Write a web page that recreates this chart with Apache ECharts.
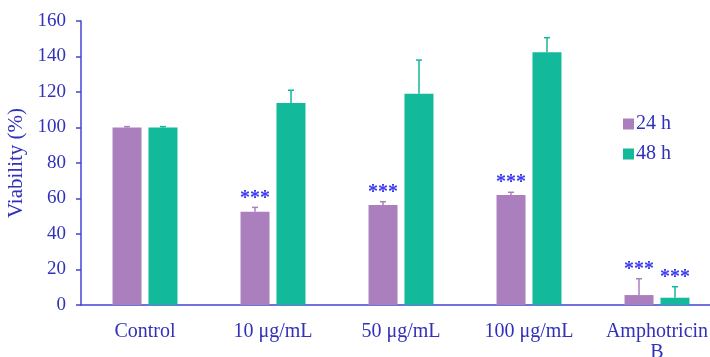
<!DOCTYPE html>
<html><head><meta charset="utf-8">
<script src="https://cdn.jsdelivr.net/npm/echarts@6/dist/echarts.min.js"></script>
<style>html,body{margin:0;padding:0;background:#fff}#c{width:710px;height:357px}</style>
</head><body><div id="c"></div>
<script>
const categories = ['Control', '10 μg/mL', '50 μg/mL', '100 μg/mL', 'Amphotricin\nB'];
const v24 = [100, 52.6, 56.3, 62, 5.6];
const e24 = [0.5, 2.4, 1.9, 1.5, 9.2];
const v48 = [100, 113.8, 119, 142.4, 4.1];
const e48 = [0.5, 7.2, 19, 8.2, 6.2];
const stars24 = ['', '***', '***', '***', '***'];
const stars48 = ['', '', '', '', '***'];
const yTicks = [0, 20, 40, 60, 80, 100, 120, 140, 160];

const PURPLE = '#ab7fbe', GREEN = '#13b99b', AXIS = '#4444d4', TXT = '#3030bb', STAR = '#3a3af0';
const FONT = '"Liberation Serif", "DejaVu Serif", serif';
const BW = 29, OFF = 18;

function errSeries(name, vals, errs, stars, color, off) {
  return {
    type: 'custom', name: name + ' err', z: 5,
    data: vals.map((v, i) => [i, v, v + errs[i], stars[i]]),
    renderItem: function (params, api) {
      const b = api.coord([api.value(0), api.value(1)]);
      const t = api.coord([api.value(0), api.value(2)]);
      const x = b[0] + off;
      const s = api.value(3);
      const children = [
        { type: 'line', shape: { x1: x, y1: b[1], x2: x, y2: t[1] }, style: { stroke: color, lineWidth: 1.5 } },
        { type: 'line', shape: { x1: x - 3, y1: t[1], x2: x + 3, y2: t[1] }, style: { stroke: color, lineWidth: 1.5 } }
      ];
      if (s) children.push({ type: 'text', style: { text: s, x: x, y: t[1] + 1, align: 'center', verticalAlign: 'bottom', fill: STAR, font: 'bold 20px ' + FONT } });
      return { type: 'group', children: children };
    }
  };
}

const chart = echarts.init(document.getElementById('c'));
chart.setOption({
  animation: false,
  grid: { left: 81, width: 640, top: 21, bottom: 52, outerBoundsMode: 'none', containLabel: false },
  legend: {
    data: ['24 h', '48 h'], orient: 'vertical', left: 618, top: 109, itemWidth: 11, itemHeight: 11, itemGap: 10,
    icon: 'rect', textStyle: { color: TXT, fontFamily: FONT, fontSize: 20, padding: [0, 0, 0, -3] }
  },
  xAxis: {
    type: 'category', data: categories,
    axisLine: { lineStyle: { color: AXIS, width: 1.5 } }, axisTick: { show: false },
    axisLabel: { color: TXT, fontFamily: FONT, fontSize: 20, margin: 16, lineHeight: 21, interval: 0 }
  },
  yAxis: {
    type: 'value', min: yTicks[0], max: yTicks[yTicks.length - 1], interval: 20,
    name: 'Viability (%)', nameLocation: 'middle', nameGap: 51, nameRotate: 90,
    nameTextStyle: { color: TXT, fontFamily: FONT, fontSize: 21 },
    axisLine: { show: true, lineStyle: { color: AXIS, width: 1.5 } },
    axisTick: { show: true, length: 5, lineStyle: { color: AXIS, width: 1.5 } },
    axisLabel: { color: TXT, fontFamily: FONT, fontSize: 19, margin: 15 },
    splitLine: { show: false }
  },
  series: [
    { type: 'bar', name: '24 h', data: v24, barWidth: BW, barGap: '24%', itemStyle: { color: PURPLE } },
    { type: 'bar', name: '48 h', data: v48, barWidth: BW, barGap: '24%', itemStyle: { color: GREEN } },
    errSeries('24 h', v24, e24, stars24, PURPLE, -OFF),
    errSeries('48 h', v48, e48, stars48, GREEN, OFF)
  ]
});
</script></body></html>
